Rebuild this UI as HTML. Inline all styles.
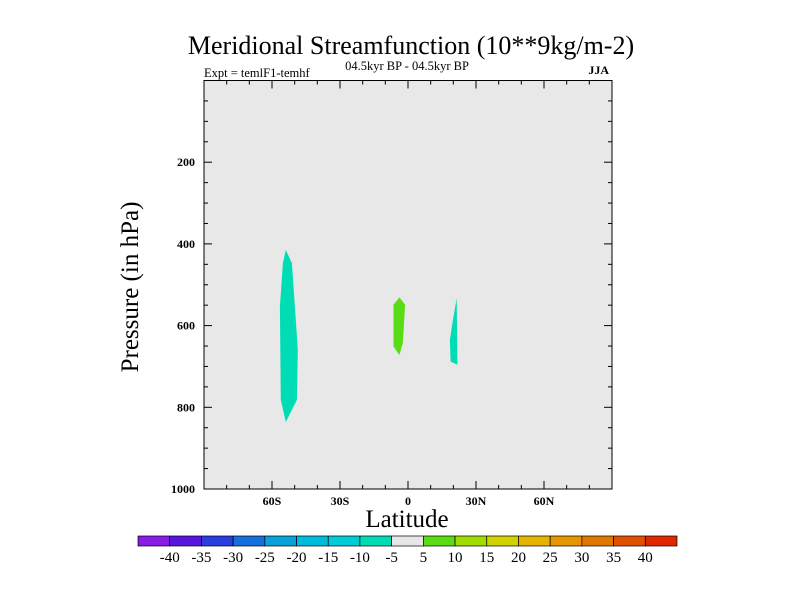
<!DOCTYPE html>
<html><head><meta charset="utf-8"><style>
html,body{margin:0;padding:0;background:#fff}
svg{display:block;font-family:"Liberation Serif",serif}
</style></head><body>
<svg id="chart" width="800" height="600" viewBox="0 0 800 600">
<text x="411" y="54" font-size="26" text-anchor="middle">Meridional Streamfunction (10**9kg/m-2)</text>
<text x="204" y="77" font-size="12.5">Expt = temlF1-temhf</text>
<text x="407" y="70" font-size="12.5" text-anchor="middle">04.5kyr BP - 04.5kyr BP</text>
<text x="609" y="74" font-size="12" font-weight="bold" text-anchor="end">JJA</text>
<rect x="204" y="80.5" width="408" height="408.5" fill="#e8e8e8"/>
<g id="shapes"></g>
<g id="axes"></g>
<rect x="204" y="80.5" width="408" height="408.5" fill="none" stroke="#000" stroke-width="1"/>
<text x="407" y="527" font-size="25" text-anchor="middle">Latitude</text>
<text transform="translate(138,287) rotate(-90)" font-size="25" text-anchor="middle">Pressure (in hPa)</text>
<g id="cbar"></g>
</svg>
<script>
const xTicks=[-60,-30,0,30,60];
const xTickLabels=["60S","30S","0","30N","60N"];
const yTicks=[200,400,600,800,1000];
const cbarLabels=["-40","-35","-30","-25","-20","-15","-10","-5","5","10","15","20","25","30","35","40"];
const cbarColors=["#8a1ae6","#5a14e0","#2a3ee0","#1470dc","#0aa0dc","#00bcdc","#00ccd8","#00dcb4","#e6e6e6","#5adc14","#a0dc00","#d2d200","#e6b400","#e69600","#e07800","#e05000","#e02800"];
const regionLevels=[-7.5,7.5,-7.5];
const regionLats=[[-53.9,-51.2,-49.9,-48.6,-49.0,-53.9,-56.1,-56.5,-55.2],[-3.8,-1.3,-2.3,-3.8,-6.4,-6.4],[21.5,21.8,18.8,18.5,19.6]];
const regionPres=[[415,447,554,659,782,836,782,554,447],[531,549,643,672,651,549],[533,696,688,635,594]];
const NS="http://www.w3.org/2000/svg";
const X0=204,X1=612,Y0=80.5,Y1=489;
const xs=v=>X0+(v+90)/180*(X1-X0);
const ys=p=>Y0+p/1000*(Y1-Y0);
function mk(t,a,p){const e=document.createElementNS(NS,t);for(const k in a)e.setAttribute(k,a[k]);p.appendChild(e);return e;}
function colorFor(v){const i=v<0?Math.max(0,7-Math.floor((-v-5)/5)):(v<5?8:Math.min(16,8+Math.floor(v/5)));return cbarColors[i];}
const sh=document.getElementById('shapes');
regionLats.forEach((lats,i)=>{
 const pts=lats.map((l,j)=>xs(l).toFixed(1)+","+ys(regionPres[i][j]).toFixed(1)).join(" ");
 const e=mk('polygon',{points:pts,fill:colorFor(regionLevels[i])},sh);
 
 
});
const ax=document.getElementById('axes');
for(let v=-80;v<=80;v+=10){
 const major=v%30===0;const L=major?8:4;const x=xs(v);
 mk('line',{x1:x,x2:x,y1:Y1,y2:Y1-L,stroke:'#000'},ax);
 mk('line',{x1:x,x2:x,y1:Y0,y2:Y0+L,stroke:'#000'},ax);
}
xTicks.forEach((v,i)=>{const t=mk('text',{x:xs(v),y:Y1+16,'font-size':12,'font-weight':'bold','text-anchor':'middle'},ax);t.textContent=xTickLabels[i];
});
for(let p=50;p<1000;p+=50){
 const major=p%200===0;const L=major?8:4;const y=ys(p);
 mk('line',{x1:X0,x2:X0+L,y1:y,y2:y,stroke:'#000'},ax);
 mk('line',{x1:X1,x2:X1-L,y1:y,y2:y,stroke:'#000'},ax);
}
yTicks.forEach(p=>{const t=mk('text',{x:195,y:ys(p)+4,'font-size':12,'font-weight':'bold','text-anchor':'end'},ax);t.textContent=p;
});
const cb=document.getElementById('cbar');
const CX=138,CW=539,CY=536,CH=10,bw=CW/cbarColors.length;
cbarColors.forEach((c,i)=>{const r=mk('rect',{x:CX+i*bw,y:CY,width:bw,height:CH,fill:c,stroke:'#000','stroke-width':0.7},cb);
});
cbarLabels.forEach((s,i)=>{const t=mk('text',{x:CX+(i+1)*bw,y:CY+CH+16,'font-size':15,'text-anchor':'middle'},cb);t.textContent=s;
});
</script>
</body></html>
